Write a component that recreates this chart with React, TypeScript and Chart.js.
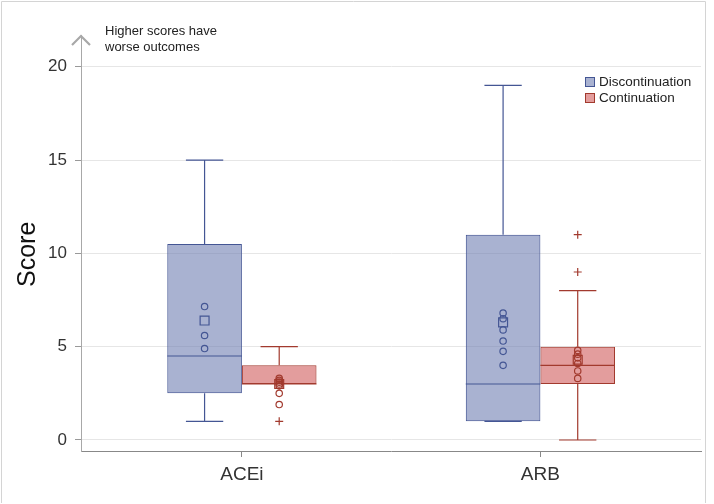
import React, { useEffect, useRef } from 'react';
import { Chart, registerables } from 'chart.js';

Chart.register(...registerables);

const categories = ['ACEi', 'ARB'];
const seriesNames = ['Discontinuation', 'Continuation'];
const yTicks = [0, 5, 10, 15, 20];

// Discontinuation (blue)
const discMin = [1, 1];
const discQ1 = [2.5, 1];
const discMedian = [4.5, 3];
const discQ3 = [10.5, 11];
const discMax = [15, 19];
const discMean = [6.4, 6.3];
const discPoints = [
  [7.15, 5.6, 4.9],
  [6.8, 6.5, 5.9, 5.3, 4.75, 4.0],
];
const discOutliers: number[][] = [[], []];

// Continuation (red)
const contMin = [3, 0];
const contQ1 = [3, 3];
const contMedian = [3, 4];
const contQ3 = [4, 5];
const contMax = [5, 8];
const contMean = [3.0, 4.3];
const contPoints = [
  [3.3, 3.2, 3.1, 3.0, 2.9, 2.5, 1.9],
  [4.8, 4.6, 4.4, 4.1, 3.7, 3.3],
];
const contOutliers = [[1], [11, 9]];

const FONT = "'Liberation Sans', Arial, Helvetica, sans-serif";
const FILLS = ['rgba(111,126,179,0.6)', 'rgba(208,91,91,0.6)'];
const LINES = ['#445694', '#A23A2E'];
const OFFSETS = [-0.125, 0.125];
const HALF_BOX = 0.125;
const CAP = 0.0625;

type Stats = {
  min: number[]; q1: number[]; med: number[]; q3: number[]; max: number[];
  mean: number[]; pts: number[][]; out: number[][];
};

const series: Stats[] = [
  { min: discMin, q1: discQ1, med: discMedian, q3: discQ3, max: discMax, mean: discMean, pts: discPoints, out: discOutliers },
  { min: contMin, q1: contQ1, med: contMedian, q3: contQ3, max: contMax, mean: contMean, pts: contPoints, out: contOutliers },
];

function buildDatasets(): any[] {
  const ds: any[] = [];
  series.forEach((s, k) => {
    ds.push({
      type: 'bar',
      label: seriesNames[k],
      data: categories.map((_, i) => ({ x: i, y: [s.q1[i], s.q3[i]] })),
      backgroundColor: FILLS[k],
      borderColor: LINES[k],
      borderWidth: 1,
      borderSkipped: false,
      barPercentage: 1,
      categoryPercentage: 0.5,
      order: 10,
    });
  });
  series.forEach((s, k) => {
    const pts: any[] = [];
    categories.forEach((_, i) => {
      const c = i + OFFSETS[k];
      const gap = { x: c, y: null };
      pts.push({ x: c, y: s.q3[i] }, { x: c, y: s.max[i] }, gap);
      pts.push({ x: c - CAP, y: s.max[i] }, { x: c + CAP, y: s.max[i] }, gap);
      pts.push({ x: c, y: s.q1[i] }, { x: c, y: s.min[i] }, gap);
      pts.push({ x: c - CAP, y: s.min[i] }, { x: c + CAP, y: s.min[i] }, gap);
      pts.push({ x: c - HALF_BOX, y: s.med[i] }, { x: c + HALF_BOX, y: s.med[i] }, gap);
    });
    ds.push({
      type: 'line',
      label: seriesNames[k] + ' whiskers',
      data: pts,
      borderColor: LINES[k],
      borderWidth: 1.2,
      pointRadius: 0,
      spanGaps: false,
      tension: 0,
      fill: false,
      order: 5,
    });
  });
  series.forEach((s, k) => {
    const circles: any[] = [];
    const means: any[] = [];
    const outs: any[] = [];
    categories.forEach((_, i) => {
      const c = i + OFFSETS[k];
      s.pts[i].forEach((v) => circles.push({ x: c, y: v }));
      means.push({ x: c, y: s.mean[i] });
      s.out[i].forEach((v) => outs.push({ x: c, y: v }));
    });
    ds.push({
      type: 'scatter', label: seriesNames[k] + ' points', data: circles,
      pointStyle: 'circle', pointRadius: 3.2, borderWidth: 1.2,
      borderColor: LINES[k], backgroundColor: 'rgba(0,0,0,0)', order: 1,
    });
    ds.push({
      type: 'scatter', label: seriesNames[k] + ' mean', data: means,
      pointStyle: 'rect', pointRadius: 6.3, borderWidth: 1.2,
      borderColor: LINES[k], backgroundColor: 'rgba(0,0,0,0)', order: 1,
    });
    ds.push({
      type: 'scatter', label: seriesNames[k] + ' outliers', data: outs,
      pointStyle: 'cross', pointRadius: 4, borderWidth: 1.2,
      borderColor: LINES[k], backgroundColor: 'rgba(0,0,0,0)', order: 1,
    });
  });
  return ds;
}

const decorPlugin = {
  id: 'decor',
  afterDraw(chart: any) {
    const ctx = chart.ctx as CanvasRenderingContext2D;
    const area = chart.chartArea;
    const yScale = chart.scales.y;
    ctx.save();
    // frame
    ctx.strokeStyle = '#d4d4d4';
    ctx.lineWidth = 1;
    ctx.beginPath();
    ctx.moveTo(1.5, 503);
    ctx.lineTo(1.5, 1.5);
    ctx.lineTo(705.5, 1.5);
    ctx.lineTo(705.5, 503);
    ctx.stroke();
    // arrow at top of y axis
    const ax = area.left;
    ctx.strokeStyle = '#a8a8a8';
    ctx.lineWidth = 2.2;
    ctx.beginPath();
    ctx.moveTo(ax - 9, area.top + 10);
    ctx.lineTo(ax, area.top + 1);
    ctx.lineTo(ax + 9, area.top + 10);
    ctx.stroke();
    // annotation
    ctx.fillStyle = '#222';
    ctx.font = `13px ${FONT}`;
    ctx.textAlign = 'left';
    ctx.textBaseline = 'middle';
    ctx.fillText('Higher scores have', 105, 31);
    ctx.fillText('worse outcomes', 105, 47);
    // legend
    ctx.font = `13.5px ${FONT}`;
    seriesNames.forEach((name, k) => {
      const y = 82 + k * 16;
      ctx.fillStyle = FILLS[k];
      ctx.fillRect(585, y - 5, 10, 10);
      ctx.strokeStyle = LINES[k];
      ctx.lineWidth = 1;
      ctx.strokeRect(585.5, y - 4.5, 9, 9);
      ctx.fillStyle = '#222';
      ctx.fillText(name, 599, y + 0.5);
    });
    // y axis title
    ctx.translate(28, (yScale.getPixelForValue(10) + 1));
    ctx.rotate(-Math.PI / 2);
    ctx.textAlign = 'center';
    ctx.textBaseline = 'middle';
    ctx.font = `25px ${FONT}`;
    ctx.fillStyle = '#111';
    ctx.fillText('Score', 0, 0);
    ctx.restore();
  },
};

export default function App() {
  const ref = useRef<HTMLCanvasElement | null>(null);
  useEffect(() => {
    if (!ref.current) return;
    Chart.defaults.font.family = FONT;
    const chart = new Chart(ref.current, {
      type: 'bar',
      data: { datasets: buildDatasets() },
      options: {
        animation: false,
        responsive: true,
        maintainAspectRatio: false,
        layout: { padding: { top: 35, right: 13, left: 0, bottom: 0 } },
        plugins: { legend: { display: false }, tooltip: { enabled: false } },
        scales: {
          x: {
            type: 'linear',
            offset: false,
            min: -0.539,
            max: 1.538,
            afterBuildTicks: (s: any) => { s.ticks = categories.map((_, i) => ({ value: i })); },
            afterFit: (s: any) => { s.height = 53; },
            ticks: {
              callback: (v: any) => categories[Number(v)] ?? '',
              font: { size: 19 },
              color: '#333',
              padding: 6,
              maxRotation: 0,
            },
            grid: { offset: false, drawOnChartArea: false, drawTicks: true, tickLength: 6, tickColor: '#888', color: '#888' },
            border: { display: true, color: '#888', width: 1 },
          },
          y: {
            type: 'linear',
            min: -0.59,
            max: 21.7,
            afterBuildTicks: (s: any) => { s.ticks = yTicks.map((v) => ({ value: v })); },
            afterFit: (s: any) => { s.width = 81; },
            ticks: { font: { size: 17 }, color: '#333', padding: 8 },
            grid: { color: '#e6e6e6', tickColor: '#999', tickLength: 6 },
            border: { display: true, color: '#a8a8a8', width: 1 },
          },
        },
      } as any,
      plugins: [decorPlugin],
    });
    return () => chart.destroy();
  }, []);
  return (
    <div style={{ position: 'fixed', left: 0, top: 0, width: 714, height: 504, background: '#fff' }}>
      <canvas ref={ref} />
    </div>
  );
}
